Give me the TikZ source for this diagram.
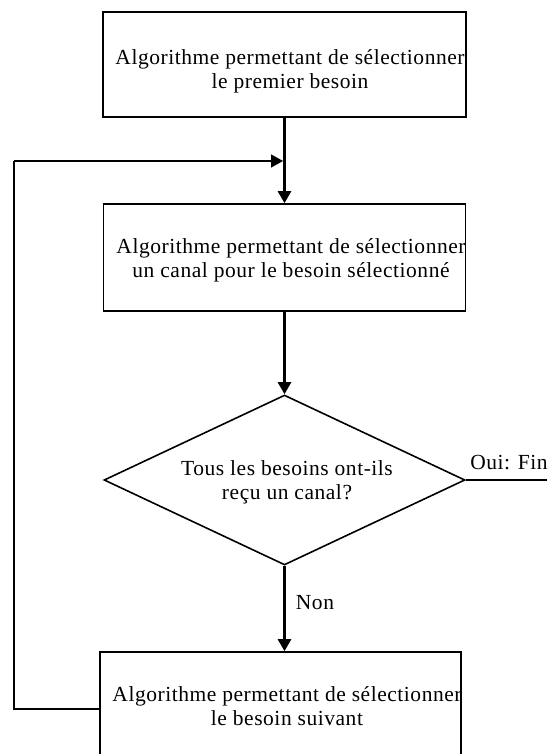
\documentclass[tikz,border=0pt]{standalone}
\usepackage{fontspec}
\setmainfont{Liberation Serif}[LetterSpace=2.5]
\usetikzlibrary{arrows.meta,shapes.geometric}
\begin{document}
\begin{tikzpicture}[x=1pt,y=-1pt,
  box/.style={draw, line width=1.6pt, inner sep=0pt},
  txt/.style={font=\fontsize{21.5}{24}\selectfont, align=center, inner sep=0pt},
  arr/.style={line width=2.6pt, -{Triangle[length=12pt,width=13pt]}},
  lp/.style={line width=1.6pt},
  lparr/.style={line width=1.6pt, -{Triangle[length=12pt,width=13pt]}}]
\useasboundingbox (0,0) rectangle (547,754);
\clip (0,0) rectangle (547,754);

\node[box, minimum width=363pt, minimum height=105pt] (b1) at (284.5,64.5) {};
\node[txt] (t1) at (290,71) {Algorithme permettant de sélectionner\\le premier besoin};

\node[box, minimum width=362pt, minimum height=107pt] (b2) at (284.5,257.5) {};
\node[txt] (t2) at (291,260) {Algorithme permettant de sélectionner\\un canal pour le besoin sélectionné};

\node[diamond, draw, line width=1.6pt, inner sep=0pt, minimum width=361pt, minimum height=170pt] (d) at (284.5,480) {};
\node[txt] (t3) at (287,482) {Tous les besoins ont-ils\\reçu un canal?};

\node[box, minimum width=361pt, minimum height=114pt] (b3) at (280.5,709) {};
\node[txt] (t4) at (287,706) {Algorithme permettant de sélectionner\\le besoin suivant};

\coordinate (j) at (283,161);
\coordinate (lc) at (14,161);
\coordinate (fin) at (547,480);

\draw[arr] (b1.south) -- (b2.north);
\draw[arr] (b2.south) -- (d.north);
\draw[arr] (d.south) -- (d.south |- b3.north);
\draw[lp] (b3.west) -| (lc);
\draw[lparr] (lc) -- (j);
\draw[lp] (d.east) -- (d.east -| fin);

\node[txt] (oui) at (509,463) {Oui: Fin};
\node[txt] (non) at (315,603) {Non};
\end{tikzpicture}
\end{document}
